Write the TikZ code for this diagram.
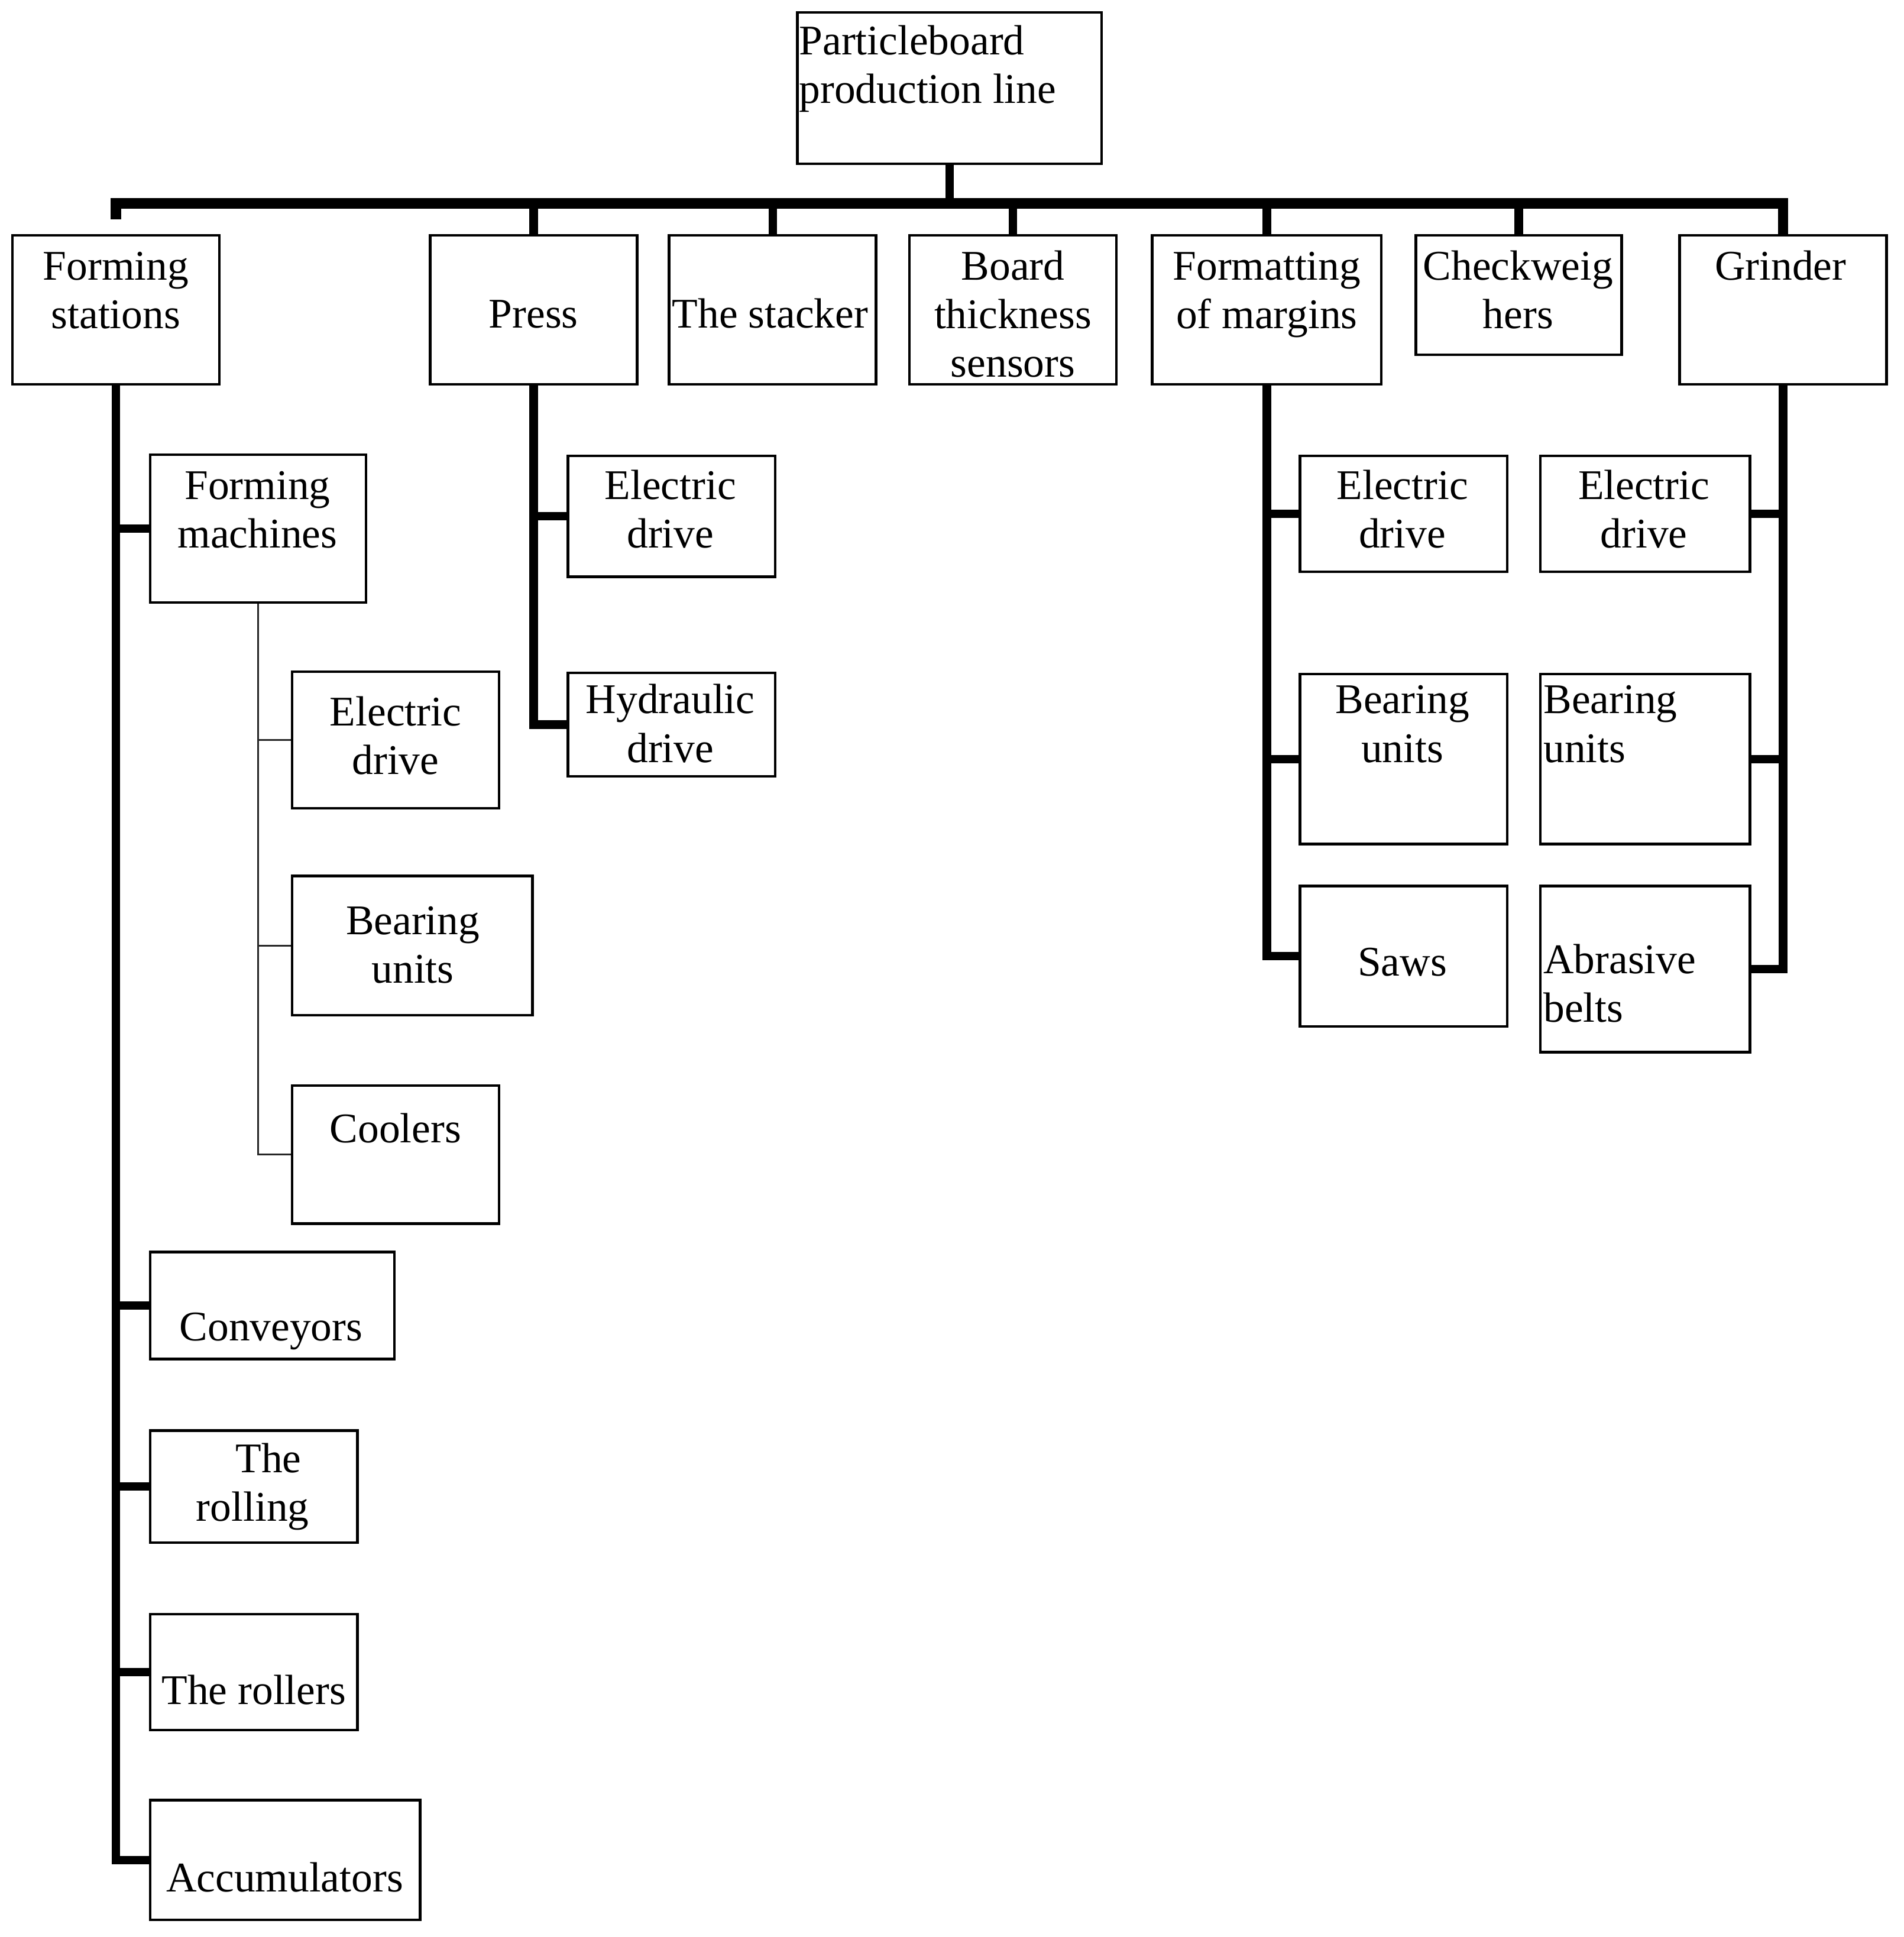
\documentclass[tikz,border=0pt]{standalone}
\usepackage{fontspec}
\setmainfont{Liberation Serif}
\usetikzlibrary{fit}
\begin{document}
\begin{tikzpicture}[x=0.35pt,y=-0.35pt,
  box/.style={draw=black, line width=0.75pt, inner sep=0pt, rectangle},
  txt/.style={font=\fontsize{12}{13.8}\selectfont, inner sep=0pt, align=center, anchor=north},
  bus/.style={line width=3pt, line join=miter},
  conn/.style={line width=2.4pt, line join=miter},
  thinc/.style={line width=0.55pt, draw=black!85, line join=miter}]
\useasboundingbox (0,0) rectangle (1545,1572);

% ---- boxes ----
\node[box, fit={(647,10) (894,133)}] (root) {};
\node[box, fit={(10,191) (178,312)}] (fs) {};
\node[box, fit={(349,191) (517,312)}] (press) {};
\node[box, fit={(543,191) (711,312)}] (stack) {};
\node[box, fit={(738,191) (906,312)}] (board) {};
\node[box, fit={(935,191) (1121,312)}] (fmt) {};
\node[box, fit={(1149,191) (1316,288)}] (chk) {};
\node[box, fit={(1363,191) (1531,312)}] (grd) {};

\node[box, fit={(122,369) (297,489)}] (fm) {};
\node[box, fit={(237,545) (405,656)}] (fed) {};
\node[box, fit={(237,711) (432,824)}] (fbu) {};
\node[box, fit={(237,881) (405,993)}] (fcool) {};
\node[box, fit={(122,1016) (320,1103)}] (conv) {};
\node[box, fit={(122,1161) (290,1252)}] (roll) {};
\node[box, fit={(122,1310) (290,1404)}] (rollers) {};
\node[box, fit={(122,1461) (341,1558)}] (acc) {};

\node[box, fit={(461,370) (629,468)}] (ped) {};
\node[box, fit={(461,546) (629,630)}] (phd) {};

\node[box, fit={(1055,370) (1223,464)}] (med) {};
\node[box, fit={(1055,547) (1223,685)}] (mbu) {};
\node[box, fit={(1055,719) (1223,833)}] (saws) {};

\node[box, fit={(1250,370) (1420,464)}] (ged) {};
\node[box, fit={(1250,547) (1420,685)}] (gbu) {};
\node[box, fit={(1250,719) (1420,854)}] (gab) {};

% ---- texts ----
\node[txt, anchor=north west, align=left] (root-t) at (648,16) {\strut Particleboard\\production line};
\node[txt] (fs-t) at (94,199) {\strut Forming\\stations};
\node[txt] (press-t) at (433,238) {\strut Press};
\node[txt] (stack-t) at (625,238) {\strut The stacker};
\node[txt] (board-t) at (822,199) {\strut Board\\thickness\\sensors};
\node[txt] (fmt-t) at (1028,199) {\strut Formatting\\of margins};
\node[txt] (chk-t) at (1232,199) {\strut Checkweig\\hers};
\node[txt] (grd-t) at (1445,199) {\strut Grinder};

\node[txt] (fm-t) at (209,377) {\strut Forming\\machines};
\node[txt] (fed-t) at (321,561) {\strut Electric\\drive};
\node[txt] (fbu-t) at (335,730) {\strut Bearing\\units};
\node[txt] (fcool-t) at (321,899) {\strut Coolers};
\node[txt] (conv-t) at (220,1060) {\strut Conveyors};
\node[txt] (roll-t) at (205,1167) {\strut\hspace*{9pt}The\\rolling};
\node[txt] (rollers-t) at (206,1355) {\strut The rollers};
\node[txt] (acc-t) at (231,1507) {\strut Accumulators};

\node[txt] (ped-t) at (544,377) {\strut Electric\\drive};
\node[txt] (phd-t) at (544,551) {\strut Hydraulic\\drive};

\node[txt] (med-t) at (1138,377) {\strut Electric\\drive};
\node[txt] (mbu-t) at (1138,551) {\strut Bearing\\units};
\node[txt] (saws-t) at (1138,764) {\strut Saws};

\node[txt] (ged-t) at (1334,377) {\strut Electric\\drive};
\node[txt, anchor=north west, align=left] (gbu-t) at (1252,551) {\strut Bearing\\units};
\node[txt, anchor=north west, align=left] (gab-t) at (1252,762) {\strut Abrasive\\belts};

% ---- top bus ----
\coordinate (stub) at (94,178);
\coordinate (barL) at (94,165);
\coordinate (barR) at (1447,165);
\draw[bus] (stub) -- (barL) -- (barR) -- (grd.north);
\draw[conn] (root.south) -- (root.south |- barL);
\foreach \n in {press,stack,board,fmt,chk}
  \draw[conn] (\n.north) -- (\n.north |- barL);

% ---- forming stations ----
\draw[conn] (fs.south) |- (acc.west);
\foreach \n in {fm,conv,roll,rollers}
  \draw[conn] (\n.west) -- (\n.west -| fs.south);

% ---- forming machines (thin) ----
\draw[thinc] (fm.south) |- (fcool.west);
\foreach \n in {fed,fbu}
  \draw[thinc] (\n.west) -- (\n.west -| fm.south);

% ---- press ----
\draw[conn] (press.south) |- (phd.west);
\draw[conn] (ped.west) -- (ped.west -| press.south);

% ---- formatting ----
\draw[conn] (fmt.south) |- (saws.west);
\foreach \n in {med,mbu}
  \draw[conn] (\n.west) -- (\n.west -| fmt.south);

% ---- grinder ----
\draw[conn] (grd.south) |- (gab.east);
\foreach \n in {ged,gbu}
  \draw[conn] (\n.east) -- (\n.east -| grd.south);
\end{tikzpicture}
\end{document}
